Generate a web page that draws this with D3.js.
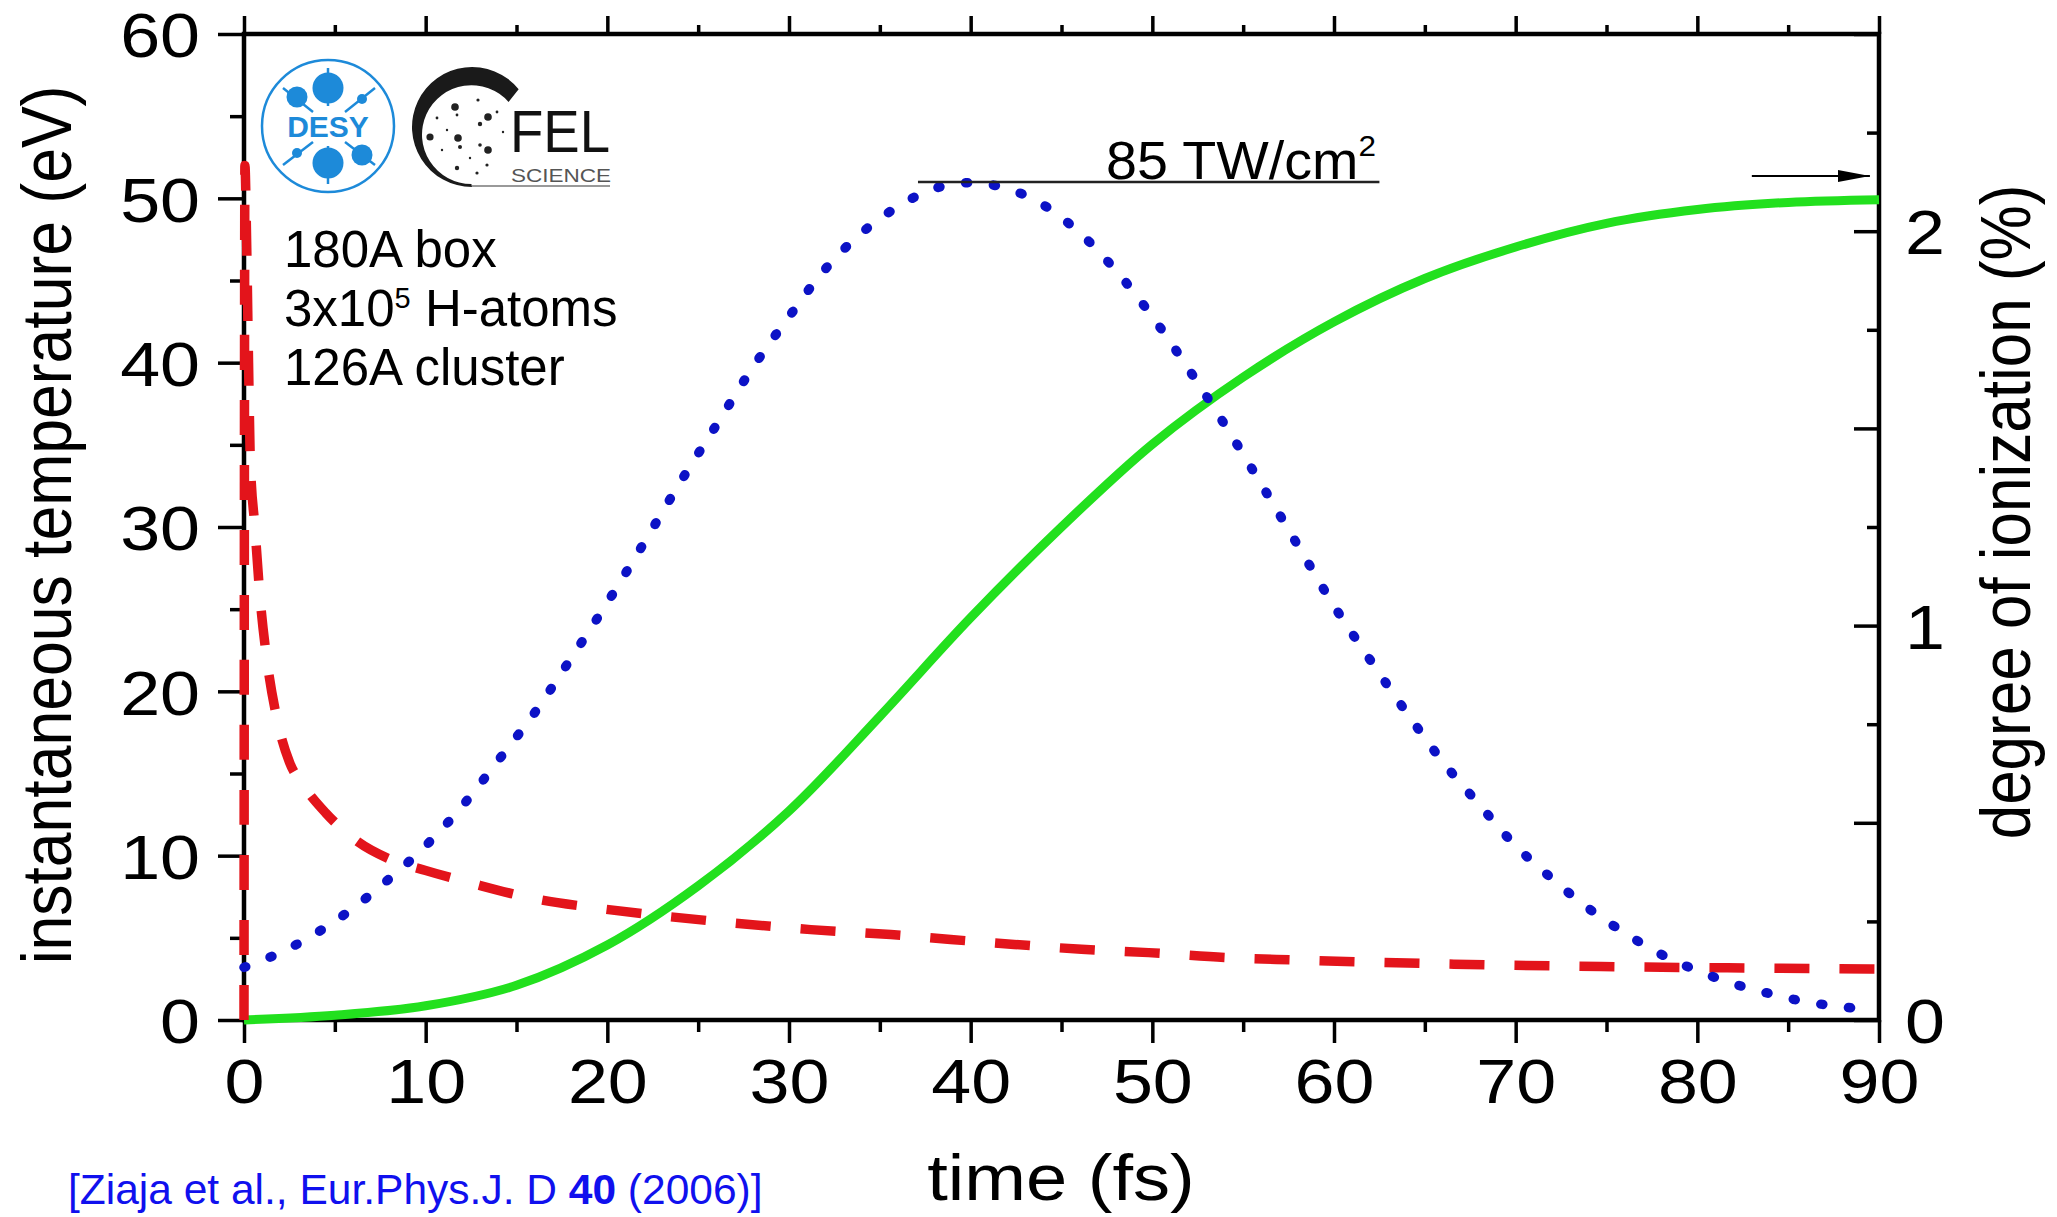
<!DOCTYPE html>
<html>
<head>
<meta charset="utf-8">
<script src="https://cdn.jsdelivr.net/npm/d3@7"></script>
<style>
  html, body { margin: 0; padding: 0; background: #fff; }
  svg { display: block; }
  text { font-family: "Liberation Sans", Arial, Helvetica, sans-serif; }
</style>
</head>
<body>
<div id="chart"></div>
<script>
// ---- data ----
const timeTicks = [0, 10, 20, 30, 40, 50, 60, 70, 80, 90];
const timeMinor = [5, 15, 25, 35, 45, 55, 65, 75, 85];
const tempTicks = [0, 10, 20, 30, 40, 50, 60];
const tempMinor = [5, 15, 25, 35, 45, 55];
const ionTicks  = [0, 0.5, 1, 1.5, 2, 2.5];
const ionMinor  = [0.25, 0.75, 1.25, 1.75, 2.25];
const ionLabels = [0, 1, 2];

// red dashed: instantaneous temperature (eV)
const tempTime  = [0, 0.05, 0.15, 0.25, 0.35, 0.6, 0.9, 1.25, 1.8, 2.5, 3.25, 4.5, 6.2, 8, 10, 12.6,
                   15.9, 19.5, 23.3, 27, 31.2, 35.6, 38.9, 42.4, 46.1, 49.8, 54, 58, 66.6, 74.7, 84.6, 90];
const tempValue = [0, 52, 47, 40, 34, 30, 25.5, 22, 18.4, 15.7, 14.3, 12.6, 10.9, 9.8, 9.1, 8.3,
                   7.4, 6.8, 6.3, 5.9, 5.5, 5.2, 4.9, 4.6, 4.3, 4.1, 3.8, 3.65, 3.4, 3.25, 3.15, 3.1];

// blue dotted: pulse profile (drawn on the eV scale)
const pulseTime  = [0, 2, 4, 6, 8, 10, 12, 14, 16, 18, 20, 22, 24, 26, 28, 30, 32, 34, 36, 38, 40, 42,
                    44, 46, 48, 50, 52, 54, 56, 58, 60, 62, 64, 66, 68, 70, 72, 74, 76, 78, 80, 82, 84,
                    86, 88, 89.5];
const pulseValue = [3.2, 4.1, 5.3, 6.8, 8.6, 10.6, 13.0, 15.8, 18.7, 22.0, 25.4, 29.0, 32.7, 36.2, 39.7,
                    42.8, 45.7, 47.9, 49.5, 50.6, 50.95, 50.6, 49.6, 47.9, 45.6, 42.8, 39.6, 36.2, 32.6,
                    28.9, 25.2, 21.9, 18.7, 15.7, 13.1, 10.6, 8.6, 6.8, 5.3, 4.0, 3.0, 2.2, 1.6, 1.1, 0.8, 0.6];

// green solid: degree of ionization (%)
const ionTime  = [0, 5, 10, 15, 20, 25, 30, 35, 40, 45, 50, 55, 60, 65, 70, 75, 80, 85, 90];
const ionValue = [0, 0.012, 0.036, 0.088, 0.19, 0.34, 0.53, 0.77, 1.02, 1.25, 1.46, 1.63, 1.77, 1.88,
                  1.96, 2.02, 2.055, 2.073, 2.08];

const infoLines = ["180A box", "3x10", "126A cluster"];

// ---- layout ----
const W = 2057, H = 1217;
const STRETCH = 1.14;   // the plot itself was widened a bit in the source image

const RED = "#e3141b", BLUE = "#0c12c6", GREEN = "#22e01e", DESY = "#1d8ad9";

const svg = d3.select("#chart").append("svg")
  .attr("width", W)
  .attr("height", H);

svg.append("rect").attr("width", W).attr("height", H).attr("fill", "#fff");

const x  = d3.scaleLinear().domain([0, 90]).range([244, 1879]);
const yL = d3.scaleLinear().domain([0, 60]).range([1020, 34]);
const yR = d3.scaleLinear().domain([0, 2.5]).range([1020, 34]);

function cleanAxis(g, w) {
  g.select(".domain").remove();
  g.selectAll(".tick line").attr("stroke", "#000").attr("stroke-width", w);
}

// frame
svg.append("rect")
  .attr("x", x(0)).attr("y", yL(60))
  .attr("width", x(90) - x(0)).attr("height", yL(0) - yL(60))
  .attr("fill", "none").attr("stroke", "#000").attr("stroke-width", 4.5);

// bottom axis
const gx = svg.append("g")
  .attr("transform", `translate(0,${yL(0)})`)
  .call(d3.axisBottom(x).tickValues(timeTicks).tickSize(23).tickPadding(15).tickFormat(d3.format("d")));
cleanAxis(gx, 3.5);
gx.selectAll("text")
  .attr("fill", "#000")
  .style("font-size", "63px")
  .attr("transform", `scale(${STRETCH},1)`);

svg.append("g")
  .attr("transform", `translate(0,${yL(0)})`)
  .call(d3.axisBottom(x).tickValues(timeMinor).tickSize(12).tickFormat(""))
  .call(g => cleanAxis(g, 3.5));

// top axis (ticks only)
svg.append("g")
  .attr("transform", `translate(0,${yL(60)})`)
  .call(d3.axisTop(x).tickValues(timeTicks).tickSize(18).tickFormat(""))
  .call(g => cleanAxis(g, 3.5));
svg.append("g")
  .attr("transform", `translate(0,${yL(60)})`)
  .call(d3.axisTop(x).tickValues(timeMinor).tickSize(9).tickFormat(""))
  .call(g => cleanAxis(g, 3.5));

// left axis
const gy = svg.append("g")
  .attr("transform", `translate(${x(0)},0)`)
  .call(d3.axisLeft(yL).tickValues(tempTicks).tickSize(26).tickFormat(d3.format("d")));
cleanAxis(gy, 3.5);
gy.selectAll("text")
  .attr("fill", "#000")
  .attr("x", -44 / STRETCH)
  .attr("dy", "0.36em")
  .style("font-size", "63px")
  .attr("transform", `scale(${STRETCH},1)`);

svg.append("g")
  .attr("transform", `translate(${x(0)},0)`)
  .call(d3.axisLeft(yL).tickValues(tempMinor).tickSize(14).tickFormat(""))
  .call(g => cleanAxis(g, 3.5));

// right axis, ticks point inward
const gr = svg.append("g")
  .attr("transform", `translate(${x(90)},0)`)
  .call(d3.axisRight(yR).tickValues(ionTicks).tickSize(-25)
    .tickFormat(d => ionLabels.includes(d) ? d3.format("d")(d) : ""));
cleanAxis(gr, 3.5);
gr.selectAll("text")
  .attr("fill", "#000")
  .attr("x", 26 / STRETCH)
  .attr("dy", "0.36em")
  .style("font-size", "63px")
  .attr("transform", `scale(${STRETCH},1)`);

svg.append("g")
  .attr("transform", `translate(${x(90)},0)`)
  .call(d3.axisRight(yR).tickValues(ionMinor).tickSize(-12).tickFormat(""))
  .call(g => cleanAxis(g, 3.5));

// axis titles
svg.append("text")
  .attr("transform", `translate(71,525) scale(${STRETCH},1) rotate(-90)`)
  .attr("text-anchor", "middle")
  .style("font-size", "62.5px")
  .text("instantaneous temperature (eV)");

svg.append("text")
  .attr("transform", `translate(2030,512) scale(${STRETCH},1) rotate(-90)`)
  .attr("text-anchor", "middle")
  .style("font-size", "62px")
  .text("degree of ionization (%)");

svg.append("text")
  .attr("transform", `translate(1061,1200) scale(${STRETCH},1)`)
  .attr("text-anchor", "middle")
  .style("font-size", "65px")
  .text("time (fs)");

// ---- curves ----
const lineIon = d3.line()
  .x((d, i) => x(ionTime[i]))
  .y(d => yR(d))
  .curve(d3.curveCatmullRom.alpha(0.5));

const lineTemp = d3.line()
  .x((d, i) => x(tempTime[i]))
  .y(d => yL(d))
  .curve(d3.curveMonotoneX);

const linePulse = d3.line()
  .x((d, i) => x(pulseTime[i]))
  .y(d => yL(d))
  .curve(d3.curveCatmullRom.alpha(0.5));

svg.append("path")
  .datum(ionValue)
  .attr("fill", "none")
  .attr("stroke", GREEN)
  .attr("stroke-width", 9)
  .attr("d", lineIon);

svg.append("path")
  .datum(tempValue)
  .attr("fill", "none")
  .attr("stroke", RED)
  .attr("stroke-width", 9.5)
  .attr("stroke-dasharray", "35 30")
  .attr("d", lineTemp);

svg.append("path")
  .datum(pulseValue)
  .attr("fill", "none")
  .attr("stroke", BLUE)
  .attr("stroke-width", 9.5)
  .attr("stroke-linecap", "round")
  .attr("stroke-dasharray", "2 26")
  .attr("d", linePulse);

// ---- annotations ----
// peak intensity marker
svg.append("line")
  .attr("x1", x(37.1)).attr("x2", x(62.5))
  .attr("y1", 182).attr("y2", 182)
  .attr("stroke", "#222").attr("stroke-width", 2.5);

const ann = svg.append("text")
  .attr("transform", `translate(1106,179) scale(1.05,1)`)
  .style("font-size", "53px");
ann.append("tspan").text("85 TW/cm");
ann.append("tspan").attr("dy", -23).style("font-size", "30px").text("2");

// arrow towards the right axis
const defs = svg.append("defs");
defs.append("marker")
  .attr("id", "arrowhead")
  .attr("viewBox", "0 0 10 10")
  .attr("preserveAspectRatio", "none")
  .attr("refX", 10).attr("refY", 5)
  .attr("markerWidth", 16).attr("markerHeight", 6)
  .attr("markerUnits", "strokeWidth")
  .attr("orient", "auto")
  .append("path")
  .attr("d", "M0,0 L10,5 L0,10 Z")
  .attr("fill", "#000");

svg.append("line")
  .attr("x1", x(83)).attr("x2", x(89.5))
  .attr("y1", 176).attr("y2", 176)
  .attr("stroke", "#000").attr("stroke-width", 2)
  .attr("marker-end", "url(#arrowhead)");

// simulation info
const info = svg.append("g").style("font-size", "51px").attr("fill", "#000");
info.append("text").attr("x", 284).attr("y", 267).text(infoLines[0]);
const l2 = info.append("text").attr("x", 284).attr("y", 326);
l2.append("tspan").text(infoLines[1]);
l2.append("tspan").attr("dy", -18).style("font-size", "29px").text("5");
l2.append("tspan").attr("dy", 18).text(" H-atoms");
info.append("text").attr("x", 284).attr("y", 385).text(infoLines[2]);

// citation
const cite = svg.append("text")
  .attr("x", 68).attr("y", 1204)
  .attr("fill", "#1010ee")
  .style("font-size", "42.5px");
cite.append("tspan").text("[Ziaja et al., Eur.Phys.J. D ");
cite.append("tspan").style("font-weight", "bold").text("40");
cite.append("tspan").text(" (2006)]");

// ---- logos ----
const desy = svg.append("g").attr("transform", "translate(328,126)");
desy.append("circle").attr("r", 66).attr("fill", "#fff").attr("stroke", DESY).attr("stroke-width", 2.5);
[[0, -58, 0, -20], [0, 20, 0, 58], [-45, -38, -15, -14], [17, -14, 47, -38],
 [-45, 39, -15, 16], [17, 16, 47, 39]].forEach(s => {
  desy.append("line")
    .attr("x1", s[0]).attr("y1", s[1]).attr("x2", s[2]).attr("y2", s[3])
    .attr("stroke", DESY).attr("stroke-width", 2.5);
});
[[0, -38, 15.5], [0, 37, 15.5], [-31, -29, 10.5], [34, 29, 10.5], [34, -27, 5], [-31, 27, 5]]
  .forEach(c => desy.append("circle").attr("cx", c[0]).attr("cy", c[1]).attr("r", c[2]).attr("fill", DESY));
desy.append("text")
  .attr("text-anchor", "middle").attr("y", 11)
  .attr("fill", DESY)
  .style("font-size", "30px").style("font-weight", "bold")
  .text("DESY");

const fel = svg.append("g");
const cp = d3.path();
cp.arc(472, 127, 60, -0.68, -0.68 - 2 * Math.PI + (Math.PI / 2 + 0.68), true);
cp.arc(471.4, 134.6, 49.4, Math.PI / 2, -0.72 + 2 * Math.PI, false);
cp.closePath();
fel.append("path").attr("d", cp.toString()).attr("fill", "#1a1a1a");
fel.append("line")
  .attr("x1", 472).attr("x2", 610).attr("y1", 186).attr("y2", 186)
  .attr("stroke", "#999").attr("stroke-width", 2);
[[455, 107, 3.8], [488, 117, 3.8], [430, 137, 3.6], [458, 138, 3.8], [488, 150, 3.8],
 [480, 124, 2.2], [460, 147, 2], [480, 145, 1.8], [457, 168, 2.2], [477, 173, 1.6],
 [487, 165, 1.6], [478, 100, 1.6], [497, 112, 1.4], [437, 118, 1.4], [447, 130, 1.2],
 [503, 132, 1.2], [457, 115, 1.4], [470, 158, 1.2], [442, 150, 1.2]]
  .forEach(c => fel.append("circle").attr("cx", c[0]).attr("cy", c[1]).attr("r", c[2]).attr("fill", "#222"));
fel.append("text")
  .attr("x", 510).attr("y", 152)
  .attr("textLength", 100).attr("lengthAdjust", "spacingAndGlyphs")
  .attr("fill", "#111")
  .style("font-size", "60px")
  .text("FEL");
fel.append("text")
  .attr("x", 511).attr("y", 182)
  .attr("textLength", 100).attr("lengthAdjust", "spacingAndGlyphs")
  .attr("fill", "#555")
  .style("font-size", "19px")
  .text("SCIENCE");
</script>
</body>
</html>
